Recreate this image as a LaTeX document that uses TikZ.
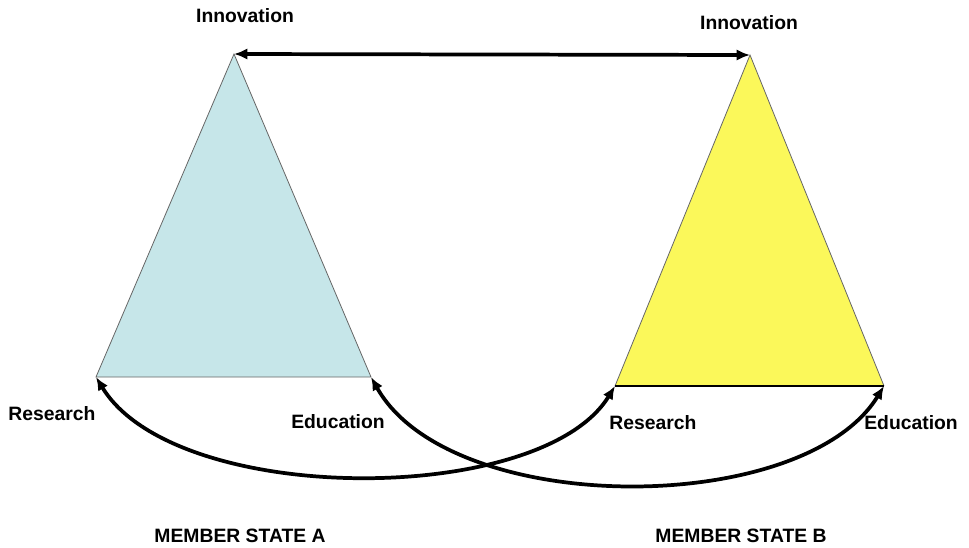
\documentclass[tikz,border=0pt]{standalone}
\usepackage{fontspec}
\setmainfont{Liberation Sans}
\usetikzlibrary{arrows.meta}
\usepackage{xcolor}
\definecolor{stateA}{RGB}{198,230,233}
\definecolor{stateB}{RGB}{251,248,90}

\begin{document}
\begin{tikzpicture}[x=0.75pt,y=-0.75pt]

		\tikzset{word/.style = {anchor=base,inner sep=0pt,font=\fontsize{14.5}{17}\selectfont\bfseries}}
		\tikzset{side/.style = {draw=black!60,line width=0.6pt}}
		\tikzset{link/.style = {<->,> = {Latex[length=10pt,width=8.5pt]},line width=2.8pt}}
		\useasboundingbox (0,0) rectangle (969,547);
		%corners
		\coordinate (AI) at (234,54);
		\coordinate (AR) at (96,377);
		\coordinate (AE) at (371,377);
		\coordinate (BI) at (750,55);
		\coordinate (BR) at (615,386);
		\coordinate (BE) at (884,386);
		%triangles
		\fill[stateA] (AI) -- (AR) -- (AE) -- cycle;
		\draw[side] (AI) -- (AR) -- (AE) -- cycle;
		\fill[stateB] (BI) -- (BR) -- (BE) -- cycle;
		\draw[side] (BR) -- (BI) -- (BE);
		\draw[line width=0.8pt] (BR) -- (BE);
		%labels
		\node[word] (Ain) at (245,22)  {Innovation};
		\node[word] (Bin) at (749,29)  {Innovation};
		\node[word] (Are) at (52,420)  {Research};
		\node[word] (Aed) at (338,428) {Education};
		\node[word] (Bre) at (653,429) {Research};
		\node[word] (Bed) at (911,429) {Education};
		\node[word] (A)   at (240,542) {MEMBER STATE A};
		\node[word] (B)   at (741,542) {MEMBER STATE B};
		%edges
		\draw[link] (AI) to (BI);
		\draw[link] (AR) .. controls (175,507) and (541,507) .. (BR);
		\draw[link] (AE) .. controls (450,518) and (803,518) .. (BE);
		\end{tikzpicture}
\end{document}
